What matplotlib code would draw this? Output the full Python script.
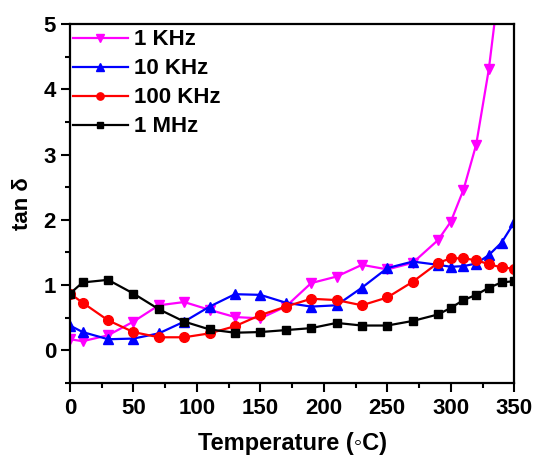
import matplotlib
matplotlib.use("Agg")
import matplotlib.pyplot as plt
from matplotlib.ticker import MultipleLocator

plt.rcParams['font.family'] = ['Liberation Sans', 'DejaVu Sans']
plt.rcParams['font.weight'] = 'bold'

temperature = [0, 10, 30, 50, 70, 90, 110, 130, 150, 170, 190, 210, 230, 250,
               270, 290, 300, 310, 320, 330, 340, 350]

tan_1khz = [0.17, 0.14, 0.23, 0.44, 0.69, 0.74, 0.62, 0.51, 0.49, 0.67, 1.03,
            1.13, 1.31, 1.24, 1.34, 1.69, 1.97, 2.46, 3.15, 4.31, 5.9]
tan_10khz = [0.38, 0.28, 0.17, 0.18, 0.26, 0.44, 0.67, 0.86, 0.85, 0.73, 0.67,
             0.69, 0.96, 1.26, 1.36, 1.31, 1.28, 1.29, 1.33, 1.46, 1.65, 1.96]
tan_100khz = [0.87, 0.73, 0.46, 0.28, 0.20, 0.20, 0.26, 0.37, 0.54, 0.67, 0.79,
              0.77, 0.69, 0.81, 1.05, 1.34, 1.41, 1.41, 1.38, 1.32, 1.27, 1.25]
tan_1mhz = [0.87, 1.04, 1.08, 0.87, 0.63, 0.44, 0.32, 0.27, 0.28, 0.31, 0.34,
            0.42, 0.38, 0.38, 0.45, 0.55, 0.65, 0.77, 0.85, 0.96, 1.04, 1.06]

labels = ['1 KHz', '10 KHz', '100 KHz', '1 MHz']

fig = plt.figure(figsize=(5.34, 4.57), dpi=100)
ax = fig.add_axes([0.131, 0.162, 0.832, 0.7855])

ax.plot(temperature[:len(tan_1khz)], tan_1khz, color='#ff00ff', marker='v',
        markersize=7.5, lw=1.6, label=labels[0])
ax.plot(temperature, tan_10khz, color='#0000ff', marker='^', markersize=7.5,
        lw=1.6, label=labels[1])
ax.plot(temperature, tan_100khz, color='#ff0000', marker='o', markersize=7,
        lw=1.6, label=labels[2])
ax.plot(temperature, tan_1mhz, color='#000000', marker='s', markersize=6,
        lw=1.6, label=labels[3])

ax.set_xlim(0, 350)
ax.set_ylim(-0.5, 5)
ax.xaxis.set_major_locator(MultipleLocator(50))
ax.xaxis.set_minor_locator(MultipleLocator(25))
ax.yaxis.set_major_locator(MultipleLocator(1))
ax.yaxis.set_minor_locator(MultipleLocator(0.5))

for s in ax.spines.values():
    s.set_linewidth(1.6)

ax.tick_params(which='major', direction='out', length=6.5, width=1.5,
               labelsize=16, top=False, right=False)
ax.tick_params(axis='x', which='major', pad=4)
ax.tick_params(axis='y', which='major', pad=3.5)
ax.tick_params(which='minor', direction='out', length=3.5, width=1.5,
               top=False, right=False)
for lab in ax.get_xticklabels() + ax.get_yticklabels():
    lab.set_fontweight('bold')

ax.set_xlabel('Temperature (\u25e6C)', fontsize=17, fontweight='bold', labelpad=10)
ax.set_ylabel('tan \u03b4', fontsize=16, fontweight='bold', labelpad=8)

leg = ax.legend(loc='upper left', frameon=False,
                handlelength=2.45, handletextpad=0.3, labelspacing=0.36,
                borderaxespad=0.0, borderpad=0.0, markerscale=0.75,
                bbox_to_anchor=(0.007, 0.985),
                prop={'weight': 'bold', 'size': 16})

fig.savefig('out.png', dpi=100)
